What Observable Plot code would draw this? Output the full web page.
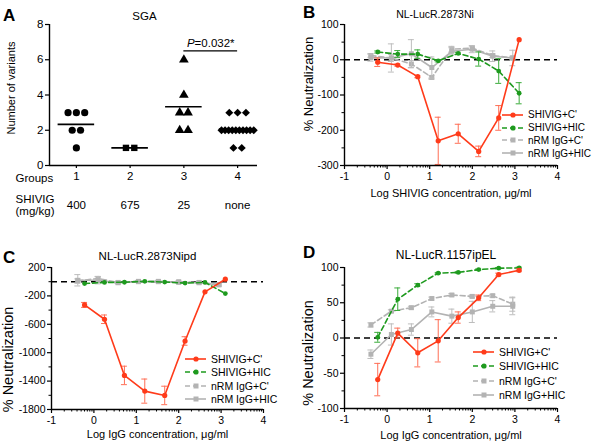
<!DOCTYPE html>
<html><head><meta charset="utf-8">
<script src="https://cdn.jsdelivr.net/npm/d3@7"></script>
<script src="https://cdn.jsdelivr.net/npm/@observablehq/plot@0.6"></script>
<style>
body{margin:0;background:#fff;font-family:"Liberation Sans",Arial,sans-serif;}
#root{position:relative;width:600px;height:444px;overflow:hidden;background:#fff;}
.panel{position:absolute;width:300px;height:222px;}
.letter{position:absolute;font-weight:bold;font-size:17px;line-height:1;color:#000;}
.legend{position:absolute;color:#000;}
.legend .row{display:flex;align-items:center;white-space:nowrap;}
.legend svg{display:block;margin-right:5px;}
</style></head><body><div id="root"></div>
<script>
// ---------- Panel A data ----------
const groupNumbers = [1, 2, 3, 4];
const groupDoses = ["400", "675", "25", "none"];
const group1Variants = [3, 3, 3, 2, 2, 1];
const group2Variants = [1, 1];
const group3Variants = [6, 4, 3, 3, 2, 2];
const group4Variants = [3, 3, 3, 2, 2, 2, 2, 2, 2, 2, 2, 2, 2, 1, 1];
const pValueLabel = "P=0.032*";
const pValueY = 6.5;
const pValueGroups = [3, 4];

// ---------- Neutralization data ----------
const seriesNames = ["SHIVIG+C'", "SHIVIG+HIC", "nRM IgG+C'", "nRM IgG+HIC"];
const shivigLogConc = [-0.22, 0.25, 0.72, 1.2, 1.67, 2.15, 2.62, 3.1];
const nrmLogConc = [-0.38, 0.1, 0.57, 1.05, 1.52, 2.0, 2.48, 2.95];

// Panel B: NL-LucR.2873Ni
const bShivigC = [-7, -15, -48, -230, -210, -260, -165, 57];
const bShivigCErr = [12, 3, 3, 67, 27, 15, 35, 0];
const bShivigHIC = [22, 16, 16, -3, 18, 2, -32, -95];
const bShivigHICErr = [3, 10, 12, 3, 3, 20, 35, 30];
const bNrmC = [12, 5, -12, -50, 30, 33, 12, 5];
const bNrmCErr = [5, 10, 10, 5, 8, 6, 5, 5];
const bNrmHIC = [6, 5, 17, -22, 24, 30, 10, 5];
const bNrmHICErr = [10, 40, 40, 30, 10, 10, 15, 22];

// Panel C: NL-LucR.2873Nipd
const cShivigC = [-327, -529, -1320, -1541, -1602, -835, -143, 35];
const cShivigCErr = [35, 60, 130, 170, 130, 60, 0, 0];
const cShivigHIC = [-26, -10, -8, 5, -5, -20, -10, -167];
const cShivigHICErr = [0, 0, 0, 0, 0, 0, 0, 0];
const cNrmC = [10, 45, -10, 5, 0, 0, -10, -40];
const cNrmCErr = [30, 30, 10, 10, 10, 10, 10, 10];
const cNrmHIC = [20, 20, -15, 0, 5, -10, -15, -45];
const cNrmHICErr = [80, 50, 10, 10, 10, 10, 10, 20];

// Panel D: NL-LucR.1157ipEL
const dShivigC = [-59, 7, -21, -4, 29, 57, 90, 96];
const dShivigCErr = [23, 7, 20, 30, 8, 4, 2, 2];
const dShivigHIC = [1, 55, 75, 92, 93, 97, 99, 99.5];
const dShivigHICErr = [7, 16, 2, 1, 1, 1, 1, 1];
const dNrmC = [18.5, 38, 43, 56, 61, 59, 60, 48];
const dNrmCErr = [3, 2, 2, 2, 2, 2, 2, 10];
const dNrmHIC = [-23, 5, 12, 37, 31, 37, 45, 45];
const dNrmHICErr = [6, 15, 8, 7, 10, 15, 8, 12];

const xMajorTicks = [-1, 0, 1, 2, 3, 4];

// ---------- styles ----------
const FONT = '"Liberation Sans", Arial, sans-serif';
const RED = "#ff3b1a", GREEN = "#1e9a1e", GRAY = "#b3b3b3";
const seriesStyles = [
  {color: RED, err: "#ff6e55", dash: null, symbol: "circle", r: 2.6},
  {color: GREEN, err: "#3aab3a", dash: "5,3", symbol: "circle", r: 2.4},
  {color: GRAY, err: "#bdbdbd", dash: "5,3", symbol: "square", r: 2.8},
  {color: GRAY, err: "#bdbdbd", dash: null, symbol: "square", r: 2.8}
];

const root = document.getElementById("root");
function place(el, left, top) {
  const d = document.createElement("div");
  d.className = "panel"; d.style.left = left + "px"; d.style.top = top + "px";
  d.appendChild(el); root.appendChild(d); return d;
}
function letter(t, left, top) {
  const d = document.createElement("div");
  d.className = "letter"; d.textContent = t;
  d.style.left = left + "px"; d.style.top = top + "px"; root.appendChild(d);
}

// log minor ticks
const xMinorTicks = [];
for (let n = -1; n < 4; n++) for (let k = 2; k <= 9; k++) xMinorTicks.push(n + Math.log10(k));

function neutPanel(o) {
  const dataSets = [
    {x: shivigLogConc, y: o.sc, e: o.scErr},
    {x: shivigLogConc, y: o.sh, e: o.shErr},
    {x: nrmLogConc, y: o.nc, e: o.ncErr},
    {x: nrmLogConc, y: o.nh, e: o.nhErr}
  ];
  const marks = [
    Plot.ruleY([0], {stroke: "#000", strokeWidth: 1.5, strokeDasharray: "6,4"})
  ];
  const order = [2, 3, 1, 0];
  for (const si of order) {
    const s = seriesStyles[si], ds = dataSets[si];
    const pts = ds.x.map((x, i) => ({x, y: ds.y[i], e: ds.e[i]}));
    const withErr = pts.filter(p => p.e > 0);
    marks.push(
      Plot.ruleX(withErr, {x: "x", y1: p => p.y - p.e, y2: p => p.y + p.e, stroke: s.err, strokeWidth: 1}),
      Plot.ruleY(withErr, {y: p => p.y + p.e, x1: p => p.x - 0.07, x2: p => p.x + 0.07, stroke: s.err, strokeWidth: 1}),
      Plot.ruleY(withErr, {y: p => p.y - p.e, x1: p => p.x - 0.07, x2: p => p.x + 0.07, stroke: s.err, strokeWidth: 1}),
      Plot.line(pts, {x: "x", y: "y", stroke: s.color, strokeWidth: 1.6, strokeDasharray: s.dash}),
      Plot.dot(pts, {x: "x", y: "y", symbol: s.symbol, r: s.r, fill: s.color, stroke: "none"})
    );
  }
  marks.push(
    Plot.ruleX([-1], {stroke: "#000", strokeWidth: 1.4}),
    Plot.ruleY([o.yDomain[0]], {stroke: "#000", strokeWidth: 1.4}),
    Plot.axisX({ticks: xMajorTicks, tickSize: 4, tickPadding: 3, tickFormat: d => String(d), strokeWidth: 1.2, fontSize: 10.5, label: null}),
    Plot.axisX({ticks: xMinorTicks, tickSize: 2.5, tickFormat: () => "", strokeWidth: 1, label: null}),
    Plot.axisY({ticks: o.yMajor, tickSize: 4, tickPadding: 2, tickFormat: d => String(d), strokeWidth: 1.2, fontSize: 10.5, label: null}),
    Plot.axisY({ticks: o.yMinor, tickSize: 2.5, tickFormat: () => "", strokeWidth: 1, label: null}),
    Plot.text([o.title], {frameAnchor: "top", dy: o.titleDy, dx: o.titleDx, fontSize: o.titleSize, lineAnchor: "middle"}),
    Plot.text([o.xLabel], {frameAnchor: "bottom", dy: o.xLabelDy, fontSize: o.xLabelSize, lineAnchor: "middle"}),
    Plot.text(["% Neutralization"], {frameAnchor: "left", textAnchor: "middle", dx: o.yLabelDx, dy: o.yLabelDy, rotate: -90, fontSize: o.yLabelSize, lineAnchor: "middle"})
  );
  return Plot.plot({
    width: 300, height: 222,
    marginLeft: o.m[0], marginRight: o.m[1], marginTop: o.m[2], marginBottom: o.m[3],
    x: {domain: [-1, 4], label: null}, y: {domain: o.yDomain, label: null},
    style: {fontFamily: FONT, fontSize: "10.5px", color: "#000", background: "transparent", overflow: "visible"},
    marks
  });
}

function legend(left, top, gap, size) {
  const d = document.createElement("div");
  d.className = "legend"; d.style.left = left + "px"; d.style.top = (top - gap / 2) + "px";
  d.style.fontSize = size + "px";
  seriesNames.forEach((name, i) => {
    const s = seriesStyles[i];
    const row = document.createElement("div");
    row.className = "row"; row.style.height = gap + "px";
    const marker = s.symbol === "circle"
      ? `<circle cx="11" cy="4" r="2.6" fill="${s.color}"/>`
      : `<rect x="8.5" y="1.5" width="5" height="5" fill="${s.color}"/>`;
    row.innerHTML = `<svg width="21" height="8"><line x1="0" x2="21" y1="4" y2="4" stroke="${s.color}" stroke-width="1.6" ${s.dash ? `stroke-dasharray="${s.dash}"` : ""}/>${marker}</svg><span>${name}</span>`;
    d.appendChild(row);
  });
  return d;
}

// ---------- Panel A ----------
const groupVariants = [group1Variants, group2Variants, group3Variants, group4Variants];
const groupSymbols = ["circle", "square", "triangle", "diamond2"];
const sgaPoints = [];
groupVariants.forEach((vals, gi) => {
  const counts = d3.rollup(vals, v => v.length, d => d);
  const seen = new Map();
  vals.forEach(v => {
    const n = counts.get(v), i = seen.get(v) || 0; seen.set(v, i + 1);
    const step = n > 1 ? Math.min(0.155, 0.6 / (n - 1)) : 0;
    sgaPoints.push({x: groupNumbers[gi] + (i - (n - 1) / 2) * step, y: v, symbol: groupSymbols[gi]});
  });
});
const sgaMeans = groupVariants.map((vals, gi) => ({g: groupNumbers[gi], mean: d3.mean(vals)}));
const doseRows = groupNumbers.map((g, i) => ({g, dose: groupDoses[i]}));

const A_FS = 11.5;
const plotA = Plot.plot({
  width: 300, height: 222, marginLeft: 49, marginRight: 43, marginTop: 24, marginBottom: 57,
  x: {domain: [0.5, 4.37], label: null}, y: {domain: [0, 8], label: null},
  style: {fontFamily: FONT, fontSize: A_FS + "px", color: "#000", background: "transparent", overflow: "visible"},
  marks: [
    Plot.dot(sgaPoints, {x: "x", y: "y", symbol: "symbol", r: 3.6, fill: "#000", stroke: "none"}),
    Plot.ruleY(sgaMeans, {y: "mean", x1: d => d.g - 0.34, x2: d => d.g + 0.34, stroke: "#000", strokeWidth: 1.6}),
    Plot.ruleY([pValueY], {x1: pValueGroups[0], x2: pValueGroups[1], stroke: "#000", strokeWidth: 1.2}),
    Plot.text([pValueLabel], {x: (pValueGroups[0] + pValueGroups[1]) / 2, y: pValueY, dy: -8, fontSize: A_FS, lineAnchor: "middle"}),
    Plot.ruleX([0.5], {stroke: "#000", strokeWidth: 1.4}),
    Plot.ruleY([0], {stroke: "#000", strokeWidth: 1.4}),
    Plot.axisY({ticks: [0, 2, 4, 6, 8], tickSize: 4, tickPadding: 2, tickFormat: d => String(d), strokeWidth: 1.2, fontSize: A_FS, label: null}),
    Plot.axisX({ticks: groupNumbers, tickSize: 3, tickPadding: 3, tickFormat: d => String(d), strokeWidth: 1.2, fontSize: A_FS, label: null}),
    Plot.text(doseRows, {x: "g", text: "dose", frameAnchor: "bottom", dy: 40, fontSize: A_FS, lineAnchor: "middle"}),
    Plot.text(["Groups"], {frameAnchor: "bottom-left", dx: -34, dy: 13, textAnchor: "start", fontSize: A_FS, lineAnchor: "middle"}),
    Plot.text(["SHIVIG"], {frameAnchor: "bottom-left", dx: -34, dy: 34, textAnchor: "start", fontSize: A_FS, lineAnchor: "middle"}),
    Plot.text(["(mg/kg)"], {frameAnchor: "bottom-left", dx: -34, dy: 46, textAnchor: "start", fontSize: A_FS, lineAnchor: "middle"}),
    Plot.text(["SGA"], {frameAnchor: "top", dx: -9, dy: -8, fontSize: 11.5, lineAnchor: "middle"}),
    Plot.text(["Number of variants"], {frameAnchor: "left", textAnchor: "middle", dx: -38, dy: -7, rotate: -90, fontSize: 11, lineAnchor: "middle"})
  ]
});
// italic P
d3.select(plotA).selectAll("text").filter(function() { return this.textContent === pValueLabel; })
  .each(function() {
    const t = d3.select(this); t.text(null);
    t.append("tspan").attr("font-style", "italic").text(pValueLabel.slice(0, 1));
    t.append("tspan").text(pValueLabel.slice(1));
  });
place(plotA, 0, 0);

// ---------- Panel B ----------
place(neutPanel({
  sc: bShivigC, scErr: bShivigCErr, sh: bShivigHIC, shErr: bShivigHICErr,
  nc: bNrmC, ncErr: bNrmCErr, nh: bNrmHIC, nhErr: bNrmHICErr,
  yDomain: [-300, 100], yMajor: [100, 0, -100, -200, -300], yMinor: [50, -50, -150, -250],
  m: [44, 43, 24, 57], title: "NL-LucR.2873Ni", titleDx: -16, titleDy: -10, titleSize: 10.5,
  xLabel: "Log SHIVIG concentration, \u03bcg/ml", xLabelDy: 28, xLabelSize: 11,
  yLabelDx: -36, yLabelDy: -11, yLabelSize: 13
}), 300, 0);

// ---------- Panel C ----------
place(neutPanel({
  sc: cShivigC, scErr: cShivigCErr, sh: cShivigHIC, shErr: cShivigHICErr,
  nc: cNrmC, ncErr: cNrmCErr, nh: cNrmHIC, nhErr: cNrmHICErr,
  yDomain: [-1800, 200], yMajor: [200, -200, -600, -1000, -1400, -1800], yMinor: [0, -400, -800, -1200, -1600],
  m: [51, 37, 45, 35], title: "NL-LucR.2873Nipd", titleDx: -10, titleDy: -11, titleSize: 11.5,
  xLabel: "Log IgG concentration, \u03bcg/ml", xLabelDy: 25, xLabelSize: 11,
  yLabelDx: -43, yLabelDy: 21, yLabelSize: 14.5
}), 0, 222);

// ---------- Panel D ----------
place(neutPanel({
  sc: dShivigC, scErr: dShivigCErr, sh: dShivigHIC, shErr: dShivigHICErr,
  nc: dNrmC, ncErr: dNrmCErr, nh: dNrmHIC, nhErr: dNrmHICErr,
  yDomain: [-100, 100], yMajor: [100, 50, 0, -50, -100], yMinor: [75, 25, -25, -75],
  m: [44, 43, 45, 36], title: "NL-LucR.1157ipEL", titleDx: -5, titleDy: -12, titleSize: 12,
  xLabel: "Log IgG concentration, \u03bcg/ml", xLabelDy: 27, xLabelSize: 11,
  yLabelDx: -36, yLabelDy: 15, yLabelSize: 14.5
}), 300, 222);

// legends
root.appendChild(legend(300 + 202, 115, 12.7, 10));
root.appendChild(legend(185, 222 + 137, 13.3, 10.5));
root.appendChild(legend(300 + 173, 222 + 130, 14.3, 10.5));

letter("A", 3, 7);
letter("B", 303, 4);
letter("C", 3, 249);
letter("D", 303, 244);
</script></body></html>
